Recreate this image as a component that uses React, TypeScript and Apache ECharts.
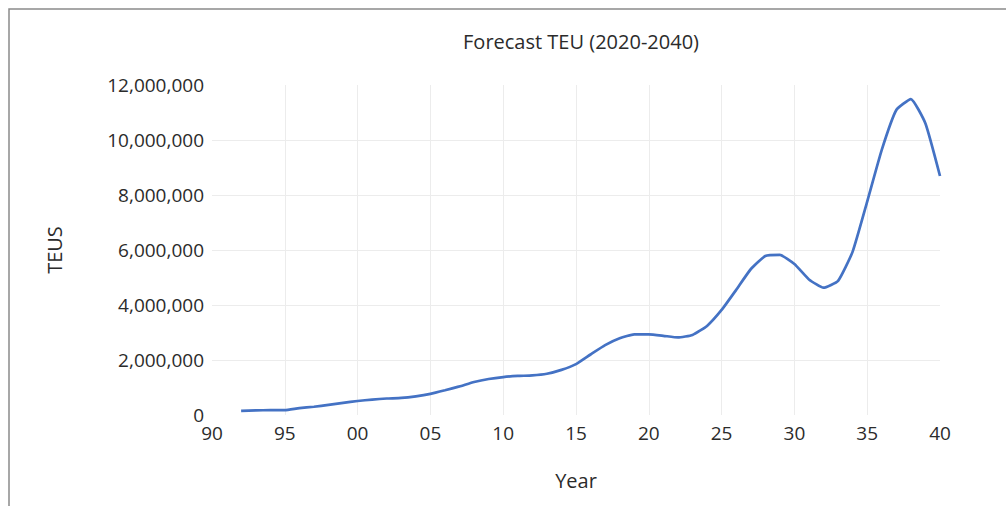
import React, { useEffect, useRef } from "react";
import * as echarts from "echarts";

const years: number[] = [
  1992, 1993, 1994, 1995, 1996, 1997, 1998, 1999, 2000, 2001, 2002, 2003, 2004, 2005, 2006, 2007,
  2008, 2009, 2010, 2011, 2012, 2013, 2014, 2015, 2016, 2017, 2018, 2019, 2020, 2021, 2022, 2023,
  2024, 2025, 2026, 2027, 2028, 2029, 2030, 2031, 2032, 2033, 2034, 2035, 2036, 2037, 2038, 2039, 2040,
];

const teus: number[] = [
  150000, 170000, 175000, 180000, 250000, 300000, 370000, 440000, 510000, 560000, 600000, 620000,
  680000, 770000, 900000, 1040000, 1200000, 1310000, 1380000, 1420000, 1440000, 1500000, 1640000,
  1850000, 2200000, 2540000, 2790000, 2930000, 2930000, 2880000, 2820000, 2910000, 3240000, 3820000,
  4550000, 5300000, 5780000, 5820000, 5490000, 4930000, 4630000, 4880000, 5940000, 7760000, 9640000,
  11090000, 11490000, 10600000, 8690000,
];

const titleText = "Forecast TEU (2020-2040)";
const xName = "Year";
const yName = "TEUS";

const FONT = "'Open Sans', 'Noto Sans', sans-serif";
const TEXT = "#2b2b2b";
const FS = 20;
const LFS = 19;

export default function App() {
  const ref = useRef<HTMLDivElement>(null);
  useEffect(() => {
    if (!ref.current) return;
    const chart = echarts.init(ref.current, undefined, { renderer: "svg" });
    chart.setOption({
      animation: false,
      backgroundColor: "#ffffff",
      textStyle: { fontFamily: FONT },
      title: {
        text: titleText,
        left: 576,
        top: 26,
        textAlign: "center",
        textStyle: { fontFamily: FONT, fontSize: FS, fontWeight: "normal", color: TEXT },
      },
      graphic: [
        {
          type: "rect",
          shape: { x: 9, y: 9, width: 1200, height: 700 },
          style: { fill: "none", stroke: "#8a8a8a", lineWidth: 1.5 },
          silent: true,
        },
      ],
      grid: { left: 212, right: 66, top: 85, bottom: 91 },
      xAxis: {
        type: "value",
        min: 1990,
        max: 2040,
        interval: 5,
        name: xName,
        nameLocation: "middle",
        nameGap: 55,
        nameTextStyle: { fontFamily: FONT, fontSize: FS, color: TEXT },
        axisLine: { show: false },
        axisTick: { show: false },
        axisLabel: {
          margin: 8,
          fontFamily: FONT,
          fontSize: LFS,
          color: TEXT,
          formatter: (v: number) => String(v % 100).padStart(2, "0"),
        },
        splitLine: { show: true, showMinLine: false, showMaxLine: false, lineStyle: { color: "#ececec", width: 1 } },
      },
      yAxis: {
        type: "value",
        min: 0,
        max: 12000000,
        interval: 2000000,
        name: yName,
        nameLocation: "middle",
        nameRotate: 90,
        nameGap: 148,
        nameTextStyle: { fontFamily: FONT, fontSize: FS, color: TEXT },
        axisLine: { show: false },
        axisTick: { show: false },
        axisLabel: {
          margin: 8,
          padding: [0, 0, 6, 0],
          fontFamily: FONT,
          fontSize: LFS,
          color: TEXT,
          formatter: (v: number) => v.toLocaleString("en-US"),
        },
        splitLine: { show: true, showMinLine: false, showMaxLine: false, lineStyle: { color: "#ececec", width: 1 } },
      },
      series: [
        {
          type: "line",
          data: years.map((y, i) => [y, teus[i]]),
          showSymbol: false,
          smooth: 0.15,
          lineStyle: { color: "#4472C4", width: 2.7 },
        },
      ],
    });
    return () => chart.dispose();
  }, []);
  return <div ref={ref} style={{ position: "fixed", left: 0, top: 0, width: 1006, height: 506 }} />;
}
